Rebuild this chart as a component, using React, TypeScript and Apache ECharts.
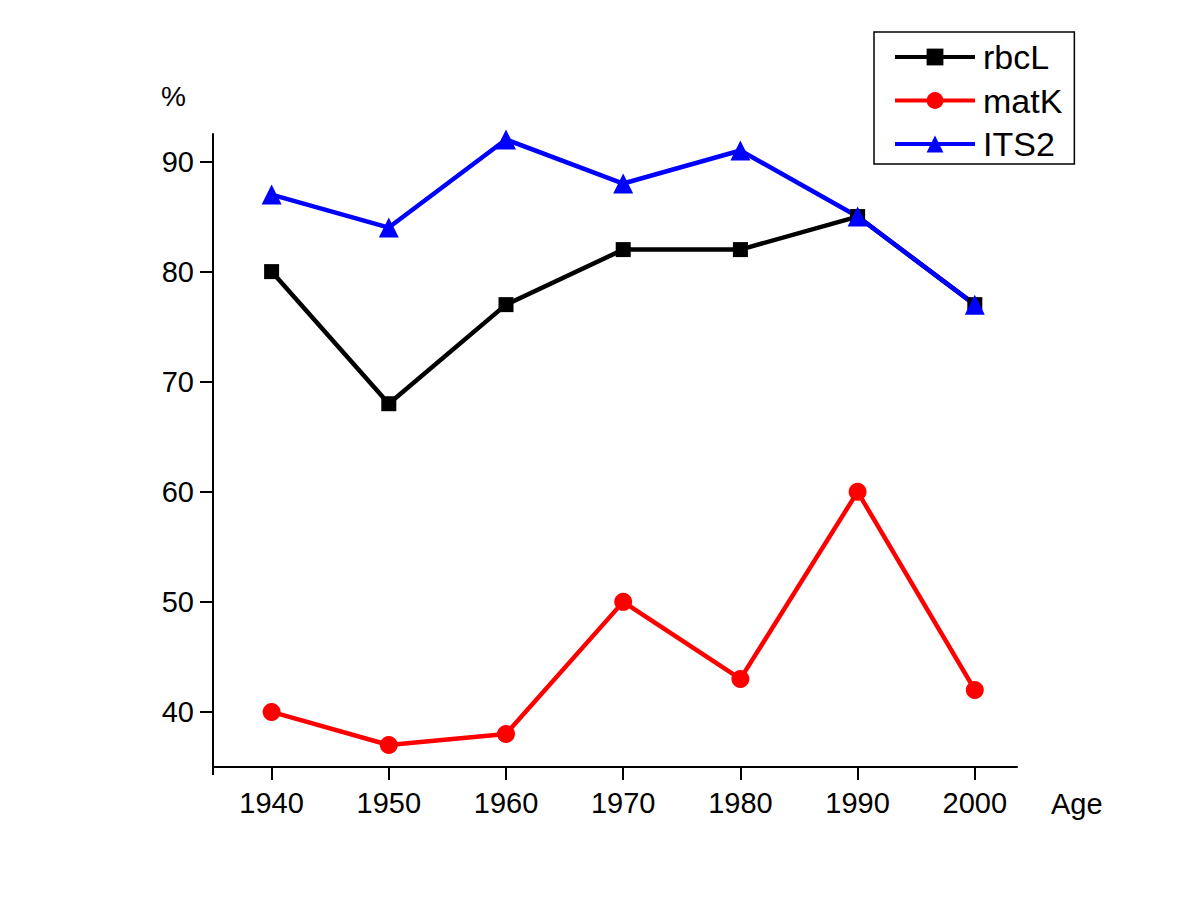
import React, { useEffect, useRef } from "react";
import * as echarts from "echarts";

const years = [1940, 1950, 1960, 1970, 1980, 1990, 2000];
const rbcL = [80, 68, 77, 82, 82, 85, 77];
const matK = [40, 37, 38, 50, 43, 60, 42];
const its2 = [87, 84, 92, 88, 91, 85, 77];
const yTicks = [40, 50, 60, 70, 80, 90];

const FONT = "'Liberation Sans', Arial, sans-serif";

export default function App() {
  const ref = useRef<HTMLDivElement>(null);
  useEffect(() => {
    if (!ref.current) return;
    const chart = echarts.init(ref.current, null, { renderer: "svg" });
    const pair = (arr: number[]) => years.map((y, i) => [y, arr[i]]);
    chart.setOption({
      animation: false,
      backgroundColor: "#ffffff",
      textStyle: { fontFamily: FONT },
      grid: { left: 213, right: 183, top: 134, bottom: 153, containLabel: false },
      legend: {
        orient: "vertical",
        left: 874,
        top: 32,
        itemWidth: 80,
        itemHeight: 21,
        itemGap: 9.5,
        padding: [8, 12, 3, 19],
        borderColor: "#000",
        borderWidth: 1.5,
        lineStyle: { width: 4 },
        textStyle: { fontSize: 34, color: "#000", fontFamily: FONT, padding: [0, 0, 0, 3] },
        data: ["rbcL", "matK", "ITS2"],
      },
      xAxis: {
        type: "value",
        min: 1935,
        max: 2003.6,
        axisLine: { show: true, onZero: false, lineStyle: { color: "#000", width: 2 } },
        axisTick: { show: true, inside: false, length: 13, customValues: years, lineStyle: { color: "#000", width: 2 } },
        axisLabel: {
          customValues: years,
          fontSize: 29,
          color: "#000",
          margin: 21,
          fontFamily: FONT,
          formatter: (v: number) => String(v),
        },
        splitLine: { show: false },
      },
      yAxis: {
        type: "value",
        min: 35,
        max: 92.5,
        axisLine: { show: true, onZero: false, lineStyle: { color: "#000", width: 2 } },
        axisTick: { show: true, inside: false, length: 13, customValues: yTicks, lineStyle: { color: "#000", width: 2 } },
        axisLabel: {
          customValues: yTicks,
          fontSize: 29,
          color: "#000",
          margin: 19,
          fontFamily: FONT,
          formatter: (v: number) => String(v),
        },
        splitLine: { show: false },
      },
      graphic: [
        { type: "text", left: 161, top: 82, style: { text: "%", fontSize: 28, fill: "#000", fontFamily: FONT } },
        { type: "text", left: 1051, top: 789, style: { text: "Age", fontSize: 29, fill: "#000", fontFamily: FONT } },
        { type: "line", shape: { x1: 213, y1: 767, x2: 213, y2: 775 }, style: { stroke: "#000", lineWidth: 2 } },
      ],
      series: [
        {
          name: "rbcL",
          type: "line",
          data: pair(rbcL),
          symbol: "rect",
          symbolSize: 15,
          itemStyle: { color: "#000000" },
          lineStyle: { color: "#000000", width: 4.5 },
        },
        {
          name: "matK",
          type: "line",
          data: pair(matK),
          symbol: "circle",
          symbolSize: 18,
          itemStyle: { color: "#ff0000" },
          lineStyle: { color: "#ff0000", width: 4.5 },
        },
        {
          name: "ITS2",
          type: "line",
          data: pair(its2),
          symbol: "triangle",
          symbolSize: 20,
          itemStyle: { color: "#0000ff" },
          lineStyle: { color: "#0000ff", width: 4.5 },
        },
      ],
    });
    return () => chart.dispose();
  }, []);
  return (
    <div
      ref={ref}
      style={{ position: "fixed", left: 0, top: 0, width: 1200, height: 920, background: "#fff" }}
    />
  );
}
